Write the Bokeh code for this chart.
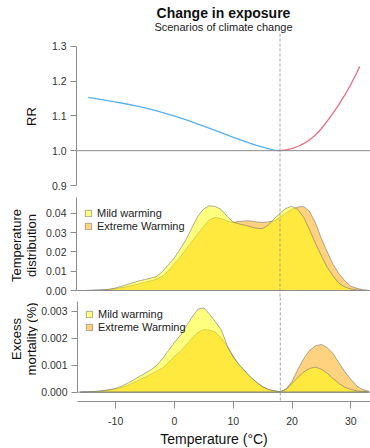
import math
from bokeh.plotting import figure
from bokeh.models import Span, Label, Legend, LegendItem, FixedTicker, NumeralTickFormatter, Range1d
from bokeh.layouts import column, row
from bokeh.embed import file_html
from bokeh.resources import INLINE

# ---------------- data ----------------
temps = list(range(-16, 34))
mmt = 18  # minimum mortality temperature

cold_temp = [-14.5, -12, -10, -8, -6, -4, -2, 0, 2, 4, 6, 8, 10, 12, 14, 16, 17, 18]
cold_rr = [1.153, 1.146, 1.140, 1.134, 1.127, 1.119, 1.110, 1.100, 1.089, 1.077,
           1.065, 1.052, 1.039, 1.027, 1.015, 1.006, 1.0015, 1.000]
hot_temp = [18, 19, 20, 21, 22, 23, 24, 25, 26, 27, 28, 29, 30, 31, 31.5]
hot_rr = [1.000, 1.002, 1.006, 1.012, 1.020, 1.031, 1.045, 1.063, 1.085, 1.108,
          1.133, 1.160, 1.190, 1.223, 1.242]

mild_dist = [0, 0, 0.0001, 0.0002, 0.0003, 0.0006, 0.0012, 0.002, 0.003, 0.004,
             0.0049, 0.0056, 0.0063, 0.0072, 0.0095, 0.013, 0.0165, 0.021, 0.026, 0.032,
             0.038, 0.042, 0.0438, 0.0435, 0.042, 0.0385, 0.0355, 0.0345, 0.0338, 0.033,
             0.0322, 0.032, 0.0338, 0.037, 0.040, 0.0425, 0.0436, 0.042, 0.038, 0.0315,
             0.0245, 0.018, 0.012, 0.0075, 0.0037, 0.0018, 0.0008, 0.0003, 0.0001, 0]
extreme_dist = [0, 0, 0.0001, 0.0002, 0.0003, 0.0005, 0.0009, 0.0014, 0.0019, 0.0026,
                0.0034, 0.0042, 0.0049, 0.0058, 0.0072, 0.0098, 0.0135, 0.017, 0.021, 0.025,
                0.029, 0.033, 0.0365, 0.0378, 0.0372, 0.036, 0.0352, 0.0357, 0.036, 0.036,
                0.0355, 0.0352, 0.0355, 0.036, 0.0378, 0.040, 0.042, 0.0432, 0.0435, 0.041,
                0.035, 0.027, 0.020, 0.0135, 0.0086, 0.005, 0.0022, 0.0011, 0.0004, 0.0001]

mild_mort = [0, 0.00001, 0.00002, 0.00004, 0.00006, 0.0001, 0.00014, 0.00022, 0.00033, 0.00045,
             0.00058, 0.0007, 0.00083, 0.001, 0.00125, 0.00155, 0.00185, 0.0021, 0.00245, 0.00278,
             0.00308, 0.00312, 0.00288, 0.0026, 0.0023, 0.0017, 0.0013, 0.00102, 0.00078, 0.00055,
             0.00036, 0.0002, 0.0001, 0.00005, 0.00002, 0.0001, 0.00032, 0.00055, 0.00075, 0.00088,
             0.00093, 0.00085, 0.0007, 0.0005, 0.00032, 0.00018, 0.0001, 0.00005, 0.00002, 0.00001]
extreme_mort = [0, 0.00001, 0.00002, 0.00003, 0.00005, 0.00008, 0.00012, 0.00017, 0.00025, 0.00035,
                0.00045, 0.00055, 0.00066, 0.00078, 0.0009, 0.0011, 0.00133, 0.0015, 0.00175, 0.002,
                0.00222, 0.00232, 0.0023, 0.00222, 0.002, 0.0017, 0.00132, 0.001, 0.00076, 0.00054,
                0.00036, 0.0002, 0.0001, 0.00005, 0.00002, 0.00012, 0.0004, 0.00085, 0.00125, 0.00155,
                0.00172, 0.00177, 0.00165, 0.00142, 0.00108, 0.00075, 0.00048, 0.00023, 0.0001, 0.00004]

x_ticks = [-10, 0, 10, 20, 30]
x_tick_labels = ["-10", "0", "10", "20", "30"]
rr_ticks = [0.9, 1.0, 1.1, 1.2, 1.3]
dist_ticks = [0.0, 0.01, 0.02, 0.03, 0.04]
mort_ticks = [0.0, 0.001, 0.002, 0.003]
series_labels = ["Mild warming", "Extreme Warming"]

# ---------------- style ----------------
FONT = "Liberation Sans"
AX = "#8c8c8c"
XR = (-16.49, 33.34)
MILD = "#FFFF00"
EXTREME = "#FFA500"
W_LAB = 38
W_MAIN = 332


def blank_fig(width, height):
    p = figure(width=width, height=height, x_range=Range1d(0, width), y_range=Range1d(0, height),
               output_backend="svg", toolbar_location=None,
               x_axis_location=None, y_axis_location=None,
               min_border_left=0, min_border_right=0, min_border_top=0, min_border_bottom=0)
    p.outline_line_color = None
    p.xgrid.visible = False
    p.ygrid.visible = False
    return p


def make_fig(height, y0, y1, bottom=0):
    p = figure(width=W_MAIN, height=height, x_range=Range1d(*XR), y_range=Range1d(y0, y1),
               output_backend="svg", toolbar_location=None,
               x_axis_location="below" if bottom else None,
               min_border_left=38, min_border_right=0,
               min_border_top=0, min_border_bottom=bottom)
    p.outline_line_color = None
    p.xgrid.visible = False
    p.ygrid.visible = False
    return p


def style_y(p, ticks, fmt, bounds):
    ax = p.yaxis[0]
    ax.ticker = FixedTicker(ticks=ticks)
    ax.formatter = NumeralTickFormatter(format=fmt)
    ax.bounds = bounds
    ax.axis_line_color = AX
    ax.major_tick_line_color = AX
    ax.minor_tick_line_color = None
    ax.major_tick_out = 6
    ax.major_tick_in = 0
    ax.major_label_standoff = 4
    ax.major_label_text_font = FONT
    ax.major_label_text_font_size = "10.5px"
    ax.major_label_text_color = "#333333"


def ylab(p, x, y, text):
    p.add_layout(Label(x=x, y=y, text=text, angle=math.pi / 2, text_align="center",
                       text_baseline="middle", text_font=FONT, text_font_size="13px",
                       text_color="#111111"))


def vline(p):
    p.add_layout(Span(location=mmt, dimension="height", line_color=AX,
                      line_dash="3 2", line_width=0.8))


def area(p, vals, color):
    xs = temps + [temps[-1], temps[0]]
    ys = list(vals) + [0, 0]
    return p.patch(xs, ys, fill_color=color, fill_alpha=0.5,
                   line_color="#6a6a6a", line_alpha=0.7, line_width=0.8)


def legend(p, r_m, r_e, loc):
    leg = Legend(items=[LegendItem(label=series_labels[0], renderers=[r_m]),
                        LegendItem(label=series_labels[1], renderers=[r_e])],
                 location=loc, border_line_color=None, background_fill_alpha=0,
                 padding=0, margin=0, spacing=1, glyph_width=8, glyph_height=8,
                 label_height=12, label_standoff=5, label_text_font=FONT,
                 label_text_font_size="11px", label_text_color="#222222")
    p.add_layout(leg)


# ---------------- title ----------------
pt = blank_fig(370, 33)
pt.add_layout(Label(x=223, y=21, text="Change in exposure", text_align="center",
                    text_baseline="middle", text_font=FONT, text_font_size="14px",
                    text_font_style="bold", text_color="#111111"))
pt.add_layout(Label(x=223, y=7, text="Scenarios of climate change", text_align="center",
                    text_baseline="middle", text_font=FONT, text_font_size="11px",
                    text_color="#222222"))

# ---------------- top: RR ----------------
p1 = make_fig(160, 0.87703, 1.33647)
style_y(p1, rr_ticks, "0.0", (0.9, 1.3))
p1.add_layout(Span(location=1.0, dimension="width", line_color=AX, line_width=1))
vline(p1)
p1.line(cold_temp, cold_rr, line_color="#56B1EC", line_width=1.3)
p1.line(hot_temp, hot_rr, line_color="#E86D80", line_width=1.3)
l1 = blank_fig(W_LAB, 160)
ylab(l1, 31, 77, "RR")

# ---------------- middle: temperature distribution ----------------
p2 = make_fig(104, -0.003622, 0.050194)
style_y(p2, dist_ticks, "0.00", (0, 0.048))
p2.add_layout(Span(location=0, dimension="width", line_color=AX, line_width=1))
vline(p2)
r_e2 = area(p2, extreme_dist, EXTREME)
r_m2 = area(p2, mild_dist, MILD)
legend(p2, r_m2, r_e2, (8, 64.8))
l2 = blank_fig(W_LAB, 104)
ylab(l2, 16, 52, "Temperature")
ylab(l2, 31, 52, "distribution")

# ---------------- bottom: excess mortality ----------------
p3 = make_fig(133, -0.0003444, 0.0035074, bottom=29)
style_y(p3, mort_ticks, "0.000", (0, 0.00337))
xa = p3.xaxis[0]
xa.ticker = FixedTicker(ticks=x_ticks)
xa.major_label_overrides = {t: s for t, s in zip(x_ticks, x_tick_labels)}
xa.axis_line_color = AX
xa.major_tick_line_color = AX
xa.minor_tick_line_color = None
xa.major_tick_out = 7
xa.major_tick_in = 0
xa.major_label_standoff = 8
xa.major_label_text_font = FONT
xa.major_label_text_font_size = "10.5px"
xa.major_label_text_color = "#333333"
p3.add_layout(Span(location=0, dimension="width", line_color=AX, line_width=1))
vline(p3)
r_e3 = area(p3, extreme_mort, EXTREME)
r_m3 = area(p3, mild_mort, MILD)
legend(p3, r_m3, r_e3, (8, 68.2))
l3 = blank_fig(W_LAB, 133)
ylab(l3, 16, 80, "Excess")
ylab(l3, 31, 80, "mortality (%)")

# ---------------- x label ----------------
px = blank_fig(370, 18)
px.add_layout(Label(x=213.5, y=10, text="Temperature (°C)", text_align="center",
                    text_baseline="middle", text_font=FONT, text_font_size="14px",
                    text_color="#111111"))

layout = column(pt, row(l1, p1), row(l2, p2), row(l3, p3), px, spacing=0)
open("out.html", "w").write(file_html(layout, INLINE))
